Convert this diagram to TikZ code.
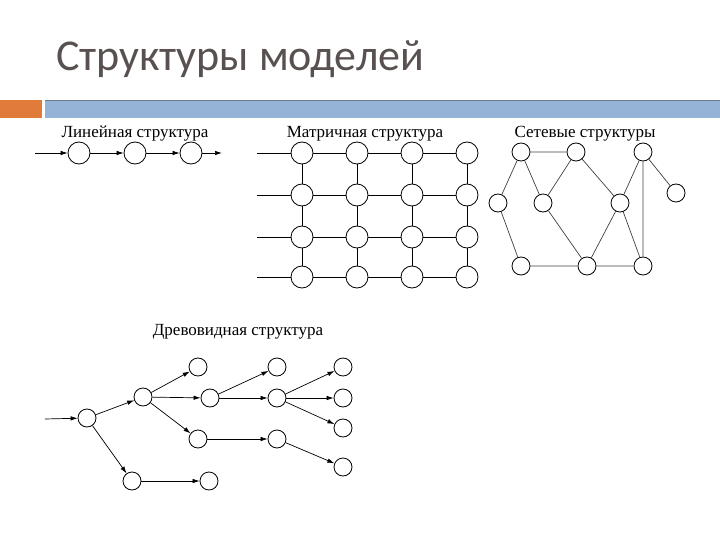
\documentclass[tikz,border=0pt]{standalone}
\usepackage{fontspec}
\setmainfont{Liberation Serif}
\newfontfamily\titlefont{Carlito}
\usetikzlibrary{arrows.meta}
\definecolor{titlegray}{HTML}{595050}
\definecolor{barblue}{HTML}{95B3D7}
\definecolor{barorange}{HTML}{E07B39}
\tikzset{
  big/.style={circle,draw,line width=0.8pt,minimum size=22pt,inner sep=0pt},
  small/.style={circle,draw,line width=0.8pt,minimum size=18pt,inner sep=0pt},
  lnk/.style={line width=0.7pt},
  arr/.style={line width=0.7pt,-{Latex[length=7pt,width=4.5pt]}},
  lbl/.style={font=\fontsize{17}{17}\selectfont,inner sep=0pt,anchor=base},
}
\begin{document}
\begin{tikzpicture}[x=1pt,y=-1pt]
\useasboundingbox (0,0) rectangle (720,540);
\fill[white] (0,0) rectangle (720,540);
% title
\node[anchor=base west,inner sep=0pt,text=titlegray,font=\titlefont\fontsize{44}{44}\selectfont] (title) at (56,71) {Структуры моделей};
% bars
\fill[barorange] (0,100) rectangle (42,118);
\fill[barblue] (45,100) rectangle (720,118);
\draw[barblue!70!black,line width=0.6pt] (45,100.5) -- (720,100.5);

% ---------- linear ----------
\node[lbl] (linlbl) at (135,138) {Линейная структура};
\coordinate (lin0) at (35,153);
\node[big] (l1) at (79,153) {};
\node[big] (l2) at (135,153) {};
\node[big] (l3) at (191,153) {};
\coordinate (lin4) at (222,153);
\draw[arr] (lin0) -- (l1);
\draw[arr] (l1) -- (l2);
\draw[arr] (l2) -- (l3);
\draw[arr] (l3) -- (lin4);

% ---------- matrix ----------
\node[lbl] (matlbl) at (365,138) {Матричная структура};
\foreach \c/\x in {1/302,2/357,3/412,4/467}{
  \foreach \r/\y in {1/153,2/195,3/237,4/277}{
    \node[big] (m\r\c) at (\x,\y) {};
  }
}
\foreach \r/\y in {1/153,2/195,3/237,4/277}{
  \coordinate (ms\r) at (257,\y);
  \draw[lnk] (ms\r) -- (m\r1) (m\r1) -- (m\r2) (m\r2) -- (m\r3) (m\r3) -- (m\r4);
}
\foreach \c in {1,2,3,4}{
  \draw[lnk] (m1\c) -- (m2\c) (m2\c) -- (m3\c) (m3\c) -- (m4\c);
}

% ---------- network ----------
\node[lbl] (netlbl) at (585,138) {Сетевые структуры};
\node[small] (nA) at (521,152) {};
\node[small] (nB) at (576,152) {};
\node[small] (nC) at (643,152) {};
\node[small] (nD) at (498,203) {};
\node[small] (nE) at (543,203) {};
\node[small] (nF) at (620,203) {};
\node[small] (nG) at (676,193) {};
\node[small] (nH) at (521,266) {};
\node[small] (nI) at (587,266) {};
\node[small] (nJ) at (643,266) {};
\draw[lnk,black!75] (nA) -- (nB) (nA) -- (nD) (nA) -- (nE) (nB) -- (nE) (nB) -- (nF)
  (nC) -- (nF) (nC) -- (nJ) (nC) -- (nG) (nD) -- (nH) (nE) -- (nI)
  (nF) -- (nI) (nF) -- (nJ) (nH) -- (nI) (nI) -- (nJ);

% ---------- tree ----------
\node[lbl] (treelbl) at (238,335) {Древовидная структура};
\coordinate (t0) at (45,419);
\node[small] (tR) at (87,418) {};
\node[small] (tN1) at (143,397) {};
\node[small] (tN2) at (132,481) {};
\node[small] (tN1a) at (198,367) {};
\node[small] (tN1b) at (210,398) {};
\node[small] (tN1c) at (198,439) {};
\node[small] (tN2a) at (209,481) {};
\node[small] (tB1) at (277,367) {};
\node[small] (tB2) at (277,398) {};
\node[small] (tC1) at (277,439) {};
\node[small] (tL1) at (343,367) {};
\node[small] (tL2) at (343,398) {};
\node[small] (tL3) at (343,428) {};
\node[small] (tL4) at (343,467) {};
\draw[arr] (t0) -- (tR);
\draw[arr] (tR) -- (tN1);
\draw[arr] (tR) -- (tN2);
\draw[arr] (tN1) -- (tN1a);
\draw[arr] (tN1) -- (tN1b);
\draw[arr] (tN1) -- (tN1c);
\draw[arr] (tN2) -- (tN2a);
\draw[arr] (tN1b) -- (tB1);
\draw[arr] (tN1b) -- (tB2);
\draw[arr] (tN1c) -- (tC1);
\draw[arr] (tB2) -- (tL1);
\draw[arr] (tB2) -- (tL2);
\draw[arr] (tB2) -- (tL3);
\draw[arr] (tC1) -- (tL4);
\end{tikzpicture}
\end{document}
